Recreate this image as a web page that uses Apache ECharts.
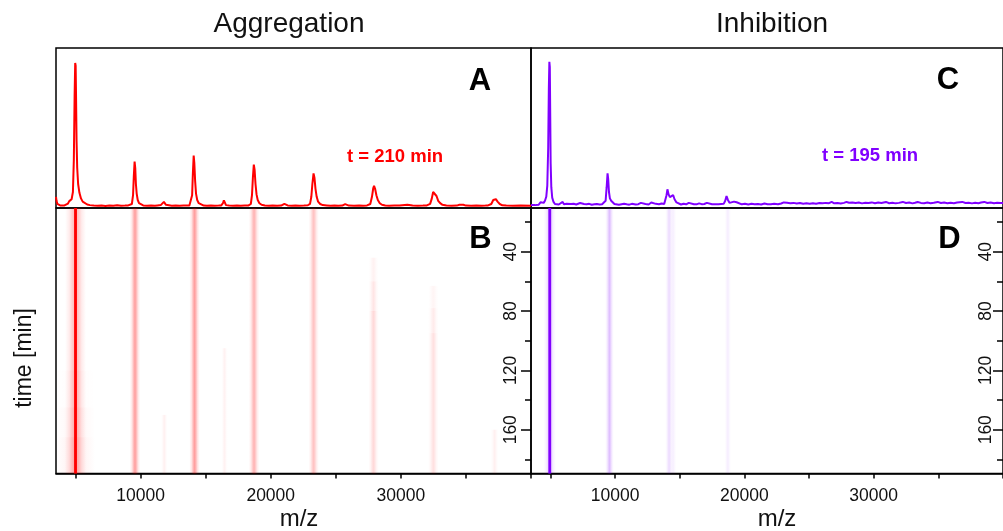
<!DOCTYPE html>
<html><head><meta charset="utf-8">
<script src="https://cdn.jsdelivr.net/npm/echarts@6/dist/echarts.min.js"></script>
<style>html,body{margin:0;padding:0;background:#fff}#c{width:1003px;height:531px}</style>
</head><body><div id="c"></div>
<script>
// ---------- data ----------
const mzRange = [3500, 40000];
const timeRange = [10.5, 189.5];
const mzTickValues = [5000, 10000, 15000, 20000, 25000, 30000, 35000, 40000];
const mzLabelValues = [10000, 20000, 30000];
const timeLabelValues = [40, 80, 120, 160];
const timeMinorValues = [20, 60, 100, 140, 180];
const panelTitles = ['Aggregation', 'Inhibition'];
const panelLetters = ['A', 'B', 'C', 'D'];
const timeNotes = ['t = 210 min', 't = 195 min'];

// spectra at the final time point: [m/z, intensity]
const spectrumAggregation = [
 [3500,7],[3540,4.5],[3600,2.6],[3700,1.8],[3850,1.5],[4000,1.4],[4150,1.6],[4300,1.9],[4420,2.8],[4520,4.3],[4600,3.8],[4700,5.5],[4800,10],[4870,30],[4930,70],[4975,90.6],[5010,89],[5040,70],[5080,42],[5130,25],[5200,15],[5300,9.5],[5420,6],[5550,4],[5700,3],[5900,2.2],[6100,1.8],[6400,1.5],[6700,1.4],[7000,1.6],[7300,1.3],[7600,1.5],[7900,1.4],[8200,1.7],[8500,1.4],[8800,1.5],[9050,1.6],[9200,1.7],[9330,2.5],[9420,8],[9480,20],[9540,29],[9590,25],[9640,15],[9700,9],[9780,5],[9880,3],[10000,2],[10200,1.6],[10500,1.4],[10800,1.5],[11100,1.4],[11300,1.6],[11420,2.6],[11550,1.8],[11700,1.9],[11790,3.8],[11860,3.5],[11950,2],[12100,1.5],[12400,1.4],[12700,1.5],[13000,1.4],[13300,1.5],[13550,1.5],[13750,1.6],[13880,2.4],[13960,8],[14020,22],[14080,32.8],[14130,28],[14190,17],[14260,9],[14350,5],[14470,3],[14620,2],[14850,1.5],[15100,1.4],[15400,1.5],[15700,1.4],[16000,1.5],[16200,1.6],[16330,3],[16400,4.8],[16470,3.5],[16560,1.8],[16800,1.5],[17100,1.4],[17400,1.5],[17700,1.4],[18000,1.5],[18300,1.6],[18470,2.5],[18560,8],[18630,19],[18700,27.1],[18760,24],[18830,15],[18910,8.5],[19000,5],[19130,3],[19300,2],[19550,1.6],[19850,1.4],[20150,1.5],[20500,1.4],[20800,1.5],[20950,2.3],[21050,2.6],[21150,2.2],[21300,1.6],[21600,1.4],[21900,1.5],[22200,1.4],[22550,1.5],[22850,1.7],[23020,2.6],[23120,7],[23200,15],[23290,21.6],[23360,19],[23440,12],[23530,7],[23640,4],[23800,2.5],[24000,1.8],[24300,1.6],[24600,1.4],[24900,1.5],[25200,1.4],[25500,1.5],[25650,2.2],[25720,2.4],[25820,1.8],[26000,1.5],[26400,1.4],[26800,1.5],[27100,1.4],[27400,1.6],[27650,2.5],[27780,7],[27880,12.5],[27940,13.8],[28020,12],[28120,8],[28230,5],[28380,3],[28550,2],[28800,1.6],[29100,1.4],[29500,1.5],[29900,1.5],[30050,2],[30500,2],[30650,1.7],[30900,1.5],[31300,1.4],[31700,1.5],[32000,1.6],[32250,2.6],[32380,6],[32480,10],[32550,11],[32630,10],[32740,7.5],[32870,4.5],[33020,3],[33200,2],[33500,1.6],[33900,1.4],[34300,1.5],[34500,2],[34800,2],[35000,1.5],[35400,1.4],[35800,1.5],[36200,1.4],[36500,1.5],[36700,1.6],[36950,2.5],[37100,5],[37200,6.2],[37300,5.5],[37430,4],[37600,2.5],[37800,1.7],[38100,1.5],[38600,1.4],[39200,1.5],[40000,1.4]
];
const spectrumInhibition = [
 [3500,1.8],[3650,2.3],[3800,1.8],[3950,2.6],[4100,2.1],[4250,3.6],[4350,2.4],[4480,3.2],[4580,4.5],[4680,7],[4760,14],[4830,38],[4880,75],[4920,91.4],[4955,88],[4985,60],[5020,28],[5070,13],[5140,6.5],[5240,3.8],[5350,2.5],[5500,3],[5650,2.2],[5800,2.6],[5950,3.8],[6050,2.4],[6250,2.6],[6400,2],[6600,2.5],[6800,2.7],[7000,2.2],[7150,2.6],[7300,3.1],[7450,2.2],[7600,2.5],[7800,2.3],[8000,2.6],[8200,2.0],[8400,2.3],[8600,2.5],[8800,2.2],[9000,2.4],[9150,2.8],[9270,4.5],[9350,13],[9420,21.7],[9470,18],[9530,10],[9600,6],[9700,4.5],[9800,3.5],[9950,2.5],[10100,2.6],[10300,2],[10500,2.3],[10700,2.6],[10900,2.3],[11100,2.1],[11300,2.6],[11450,3.1],[11600,2.2],[11800,2.4],[12000,3.2],[12150,2.3],[12350,2.5],[12600,2.2],[12800,3.4],[12950,2.4],[13150,2.6],[13400,2.3],[13600,2.8],[13800,2.5],[13900,3.5],[13980,8],[14050,11.7],[14140,8.5],[14240,6.8],[14380,7.5],[14490,8.1],[14600,5.5],[14750,3.5],[14900,2.6],[15100,2.2],[15300,2.7],[15500,2.3],[15700,3.2],[15850,2.4],[16100,2.4],[16300,2.3],[16500,2.9],[16700,2.4],[16900,2.5],[17100,3.2],[17250,2.3],[17500,2.3],[17800,2.4],[18000,2.4],[18200,2.5],[18400,2.6],[18520,4.5],[18620,7.5],[18720,5.2],[18850,3.2],[19000,3.9],[19200,4],[19400,3.6],[19550,2.6],[19800,2.3],[20050,2.6],[20300,2.2],[20550,2.6],[20800,2.3],[21050,2.5],[21300,2.2],[21550,2.8],[21800,2.3],[22050,2.4],[22300,2.6],[22600,2.3],[22850,2.8],[23050,3.5],[23300,3.3],[23550,3],[23800,3.2],[24050,2.8],[24300,3.1],[24550,2.7],[24800,2.9],[25050,2.6],[25300,3],[25550,2.7],[25800,3.1],[26050,2.9],[26300,3.2],[26550,3.0],[26750,3.8],[26950,2.9],[27200,3.1],[27450,2.8],[27700,3.2],[27900,3.8],[28100,3.3],[28350,3.5],[28600,3.1],[28850,3.4],[29100,2.9],[29350,3.3],[29600,3.1],[29850,3.5],[30100,3.0],[30350,3.4],[30600,3.1],[30950,3.8],[31200,3.0],[31450,3.3],[31700,2.9],[31950,3.2],[32250,3.8],[32500,3.1],[32750,3.4],[33000,2.9],[33200,3.3],[33400,3.8],[33650,3.2],[33900,3.0],[34150,3.4],[34400,3.0],[34650,3.3],[34950,3.8],[35200,3.1],[35450,3.4],[35700,3.0],[35950,3.3],[36200,3.0],[36450,3.4],[36850,3.8],[37100,3.1],[37350,3.3],[37600,2.9],[37850,3.3],[38100,3.0],[38300,3.4],[38550,3.8],[38800,3.1],[39050,3.4],[39300,3.0],[39550,3.3],[39800,3.1],[40000,3.2]
];

// time-resolved bands (heat map): peak m/z, half width (m/z), start time, end time, relative intensity
const bandCenterAgg = [5000, 5000, 5000, 5000, 5000, 9570, 11820, 14150, 16450, 18720, 23300, 27900, 27900, 27900, 32500, 32500, 32500, 37200];
const bandHalfWidthAgg = [1500, 1500, 1500, 800, 110, 400, 250, 400, 250, 400, 400, 400, 400, 400, 400, 400, 400, 300];
const bandStartAgg = [120, 145, 165, 10.5, 10.5, 10.5, 150, 10.5, 105, 10.5, 10.5, 44, 60, 80, 63, 78, 95, 160];
const bandEndAgg = [145, 165, 189.5, 189.5, 189.5, 189.5, 189.5, 189.5, 189.5, 189.5, 189.5, 60, 80, 189.5, 78, 95, 189.5, 189.5];
const bandLevelAgg = [0.03, 0.07, 0.12, 0.3, 1, 0.38, 0.06, 0.38, 0.05, 0.3, 0.24, 0.05, 0.1, 0.15, 0.04, 0.08, 0.12, 0.06];

const bandCenterInh = [4950, 4950, 9570, 14180, 14500, 18720];
const bandHalfWidthInh = [480, 110, 330, 300, 250, 250];
const bandStartInh = [10.5, 10.5, 10.5, 10.5, 10.5, 10.5];
const bandEndInh = [189.5, 189.5, 189.5, 189.5, 189.5, 189.5];
const bandLevelInh = [0.22, 1, 0.25, 0.14, 0.06, 0.07];

// ---------- chart ----------
const RED = '#ff0000', PURPLE = '#8000ff';
const FONT = "'Liberation Sans', Arial, sans-serif";

function bands(c, hw, t0, t1, lv) {
  return c.map((v, i) => [v, hw[i], t0[i], t1[i], lv[i]]);
}
function bandRenderer(rgb) {
  return function (params, api) {
    const c = api.value(0), hw = api.value(1), t0 = api.value(2), t1 = api.value(3), lvl = api.value(4);
    const p0 = api.coord([c - hw, t0]);
    const p1 = api.coord([c + hw, t1]);
    const cs = params.coordSys;
    const shape = echarts.graphic.clipRectByRect({
      x: Math.min(p0[0], p1[0]), y: Math.min(p0[1], p1[1]),
      width: Math.abs(p1[0] - p0[0]), height: Math.abs(p1[1] - p0[1])
    }, { x: cs.x, y: cs.y, width: cs.width, height: cs.height });
    if (!shape) return;
    const col = a => 'rgba(' + rgb + ',' + (a * lvl).toFixed(3) + ')';
    let fill;
    if (lvl >= 1) fill = 'rgb(' + rgb + ')';
    else fill = new echarts.graphic.LinearGradient(0, 0, 1, 0, [
      { offset: 0, color: col(0) }, { offset: 0.2, color: col(0.25) }, { offset: 0.38, color: col(0.75) },
      { offset: 0.5, color: col(1) }, { offset: 0.62, color: col(0.75) }, { offset: 0.8, color: col(0.25) },
      { offset: 1, color: col(0) }]);
    return { type: 'rect', shape: shape, style: { fill: fill } };
  };
}

const border = { show: true, borderColor: '#000', borderWidth: 1.5, backgroundColor: 'transparent' };
const grids = [
  Object.assign({ left: 56, top: 48, width: 475, height: 160 }, border),
  Object.assign({ left: 56, top: 208, width: 475, height: 265.5 }, border),
  Object.assign({ left: 531, top: 48, width: 475, height: 160 }, border),
  Object.assign({ left: 531, top: 208, width: 475, height: 265.5 }, border)
];

function hiddenX(g) { return { type: 'value', gridIndex: g, min: mzRange[0], max: mzRange[1], show: false }; }
function mzAxis(g) {
  return {
    type: 'value', gridIndex: g, min: mzRange[0], max: mzRange[1], position: 'bottom',
    axisLine: { show: true, lineStyle: { color: '#000', width: 1.5 } },
    axisTick: { show: true, customValues: mzTickValues, length: 5, lineStyle: { color: '#000', width: 1.5 } },
    axisLabel: { customValues: mzLabelValues, formatter: v => String(v), color: '#111', fontSize: 17.5, fontFamily: FONT, margin: 14 },
    splitLine: { show: false }
  };
}
function timeAxis(g, pos, inside, vals, len, labels) {
  return {
    type: 'value', gridIndex: g, min: timeRange[0], max: timeRange[1], inverse: true, position: pos,
    axisLine: { show: false },
    axisTick: { show: true, inside: inside, customValues: vals, length: len, lineStyle: { color: '#000', width: 1.5 } },
    axisLabel: labels ? { show: true, inside: inside, customValues: vals, formatter: v => String(v), rotate: 90, color: '#111', fontSize: 17.5, fontFamily: FONT, margin: inside ? 8 : 11 } : { show: false },
    splitLine: { show: false }
  };
}

const option = {
  animation: false,
  backgroundColor: '#fff',
  grid: grids,
  xAxis: [hiddenX(0), mzAxis(1), hiddenX(2), mzAxis(3)],
  yAxis: [
    { type: 'value', gridIndex: 0, min: 0, max: 100, show: false },
    { type: 'value', gridIndex: 1, min: timeRange[0], max: timeRange[1], inverse: true, show: false },
    { type: 'value', gridIndex: 2, min: 0, max: 100, show: false },
    timeAxis(3, 'left', false, timeLabelValues, 10, true),
    timeAxis(3, 'left', false, timeMinorValues, 6, false),
    timeAxis(3, 'right', true, timeLabelValues, 10, true),
    timeAxis(3, 'right', true, timeMinorValues, 6, false)
  ],
  series: [
    { type: 'line', xAxisIndex: 0, yAxisIndex: 0, data: spectrumAggregation, showSymbol: false, symbol: 'none',
      lineStyle: { color: RED, width: 2 }, z: 3 },
    { type: 'line', xAxisIndex: 2, yAxisIndex: 2, data: spectrumInhibition, showSymbol: false, symbol: 'none',
      lineStyle: { color: PURPLE, width: 2 }, z: 3 },
    { type: 'custom', xAxisIndex: 1, yAxisIndex: 1, renderItem: bandRenderer('255,0,0'),
      data: bands(bandCenterAgg, bandHalfWidthAgg, bandStartAgg, bandEndAgg, bandLevelAgg), encode: { x: 0, y: 2 }, z: 1 },
    { type: 'custom', xAxisIndex: 3, yAxisIndex: 3, renderItem: bandRenderer('128,0,255'),
      data: bands(bandCenterInh, bandHalfWidthInh, bandStartInh, bandEndInh, bandLevelInh), encode: { x: 0, y: 2 }, z: 1 }
  ],
  graphic: [
    { type: 'text', x: 289, y: 24, style: { text: panelTitles[0], font: '28px ' + FONT, fill: '#111', align: 'center', verticalAlign: 'middle', textAlign: 'center', textVerticalAlign: 'middle' } },
    { type: 'text', x: 772, y: 24, style: { text: panelTitles[1], font: '28px ' + FONT, fill: '#111', align: 'center', verticalAlign: 'middle', textAlign: 'center', textVerticalAlign: 'middle' } },
    { type: 'text', x: 480, y: 81, z: 10, style: { text: panelLetters[0], font: 'bold 31px ' + FONT, fill: '#000', align: 'center', verticalAlign: 'middle', textAlign: 'center', textVerticalAlign: 'middle' } },
    { type: 'text', x: 480.5, y: 239.5, z: 10, style: { text: panelLetters[1], font: 'bold 31px ' + FONT, fill: '#000', align: 'center', verticalAlign: 'middle', textAlign: 'center', textVerticalAlign: 'middle' } },
    { type: 'text', x: 948, y: 80, z: 10, style: { text: panelLetters[2], font: 'bold 31px ' + FONT, fill: '#000', align: 'center', verticalAlign: 'middle', textAlign: 'center', textVerticalAlign: 'middle' } },
    { type: 'text', x: 949.5, y: 239.5, z: 10, style: { text: panelLetters[3], font: 'bold 31px ' + FONT, fill: '#000', align: 'center', verticalAlign: 'middle', textAlign: 'center', textVerticalAlign: 'middle' } },
    { type: 'text', x: 395, y: 156.5, z: 10, style: { text: timeNotes[0], font: 'bold 18.5px ' + FONT, fill: RED, align: 'center', verticalAlign: 'middle', textAlign: 'center', textVerticalAlign: 'middle' } },
    { type: 'text', x: 870, y: 156, z: 10, style: { text: timeNotes[1], font: 'bold 18.5px ' + FONT, fill: PURPLE, align: 'center', verticalAlign: 'middle', textAlign: 'center', textVerticalAlign: 'middle' } },
    { type: 'text', x: 299, y: 519, style: { text: 'm/z', font: '24px ' + FONT, fill: '#111', align: 'center', verticalAlign: 'middle', textAlign: 'center', textVerticalAlign: 'middle' } },
    { type: 'text', x: 777, y: 519, style: { text: 'm/z', font: '24px ' + FONT, fill: '#111', align: 'center', verticalAlign: 'middle', textAlign: 'center', textVerticalAlign: 'middle' } },
    { type: 'text', x: 24.5, y: 358, rotation: Math.PI / 2, style: { text: 'time [min]', font: '23px ' + FONT, fill: '#111', align: 'center', verticalAlign: 'middle', textAlign: 'center', textVerticalAlign: 'middle' } }
  ]
};

const chart = echarts.init(document.getElementById('c'), null, { renderer: 'canvas' });
chart.setOption(option);
</script>
</body></html>
